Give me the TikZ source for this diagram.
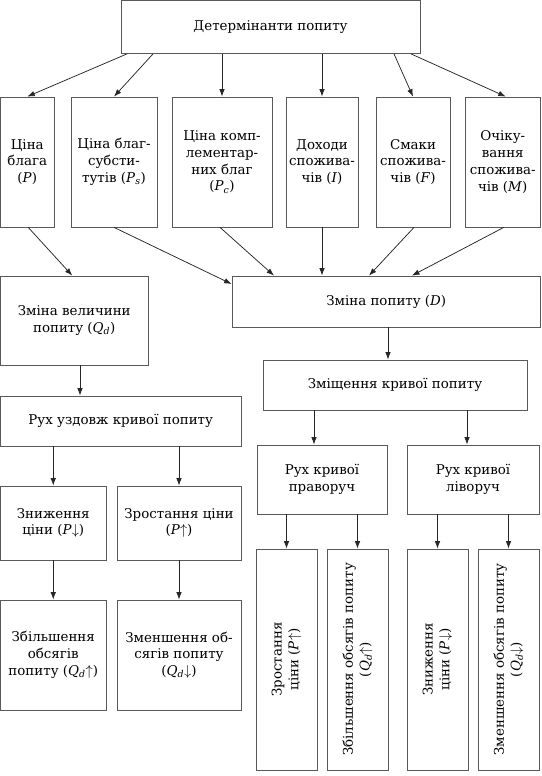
\documentclass[tikz,border=0pt]{standalone}
\usepackage{fontspec}
\setmainfont{DejaVu Serif}
\usetikzlibrary{arrows.meta,calc}
\newcommand\Pit{\textit{P}}
\newcommand\Qd{\textit{Q}\textsubscript{\textit{d}}}
\begin{document}
\begin{tikzpicture}[x=1pt,y=-1pt,
  box/.style={draw=black!65, line width=0.8pt, align=center, inner sep=0pt,
    font=\fontsize{13.4}{16.8}\selectfont},
  arr/.style={-{Latex[length=7.5pt,width=5.5pt]}, draw=black!85, line width=0.75pt}]
\useasboundingbox (0,0) rectangle (541,776);
% top
\node[box, minimum width=299pt, minimum height=53pt] (top) at (270.5,27) {Детермінанти попиту};
% six determinants
\node[box, minimum width=53.5pt, minimum height=130pt] (b1) at (27.25,162) {Ціна\\блага\\(\Pit)};
\node[box, minimum width=86pt, minimum height=130pt] (b2) at (114,162) {Ціна благ-\\субсти-\\тутів (\Pit\textsubscript{\textit{s}})};
\node[box, minimum width=100pt, minimum height=130pt] (b3) at (222,162) {Ціна комп-\\лементар-\\них благ\\(\Pit\textsubscript{\textit{c}})};
\node[box, minimum width=72pt, minimum height=130pt] (b4) at (322,162) {Доходи\\спожива-\\чів (\textit{I})};
\node[box, minimum width=74pt, minimum height=130pt] (b5) at (413,162) {Смаки\\спожива-\\чів (\textit{F})};
\node[box, minimum width=75.5pt, minimum height=130pt] (b6) at (502.75,162) {Очіку-\\вання\\спожива-\\чів (\textit{M})};
% second row
\node[box, minimum width=147.5pt, minimum height=89pt] (zv) at (74.25,320.5) {Зміна величини\\попиту (\Qd)};
\node[box, minimum width=308.5pt, minimum height=51pt] (zd) at (386.25,301.5) {Зміна попиту (\textit{D})};
\node[box, minimum width=264pt, minimum height=50pt] (zz) at (395,385) {Зміщення кривої попиту};
\node[box, minimum width=240.5pt, minimum height=50pt] (ru) at (120.75,421) {Рух уздовж кривої попиту};
% left lower
\node[box, minimum width=105.5pt, minimum height=74pt] (la) at (53.25,523) {Зниження\\ціни (\Pit$\downarrow$)};
\node[box, minimum width=124pt, minimum height=74pt] (lb) at (179,523) {Зростання ціни\\(\Pit$\uparrow$)};
\node[box, minimum width=105.5pt, minimum height=110pt] (lc) at (53.25,655) {Збільшення\\обсягів\\попиту (\Qd$\uparrow$)};
\node[box, minimum width=124pt, minimum height=110pt] (ld) at (179,655) {Зменшення об-\\сягів попиту\\(\Qd$\downarrow$)};
% right lower
\node[box, minimum width=130pt, minimum height=69pt] (rp) at (322,479.5) {Рух кривої\\праворуч};
\node[box, minimum width=132pt, minimum height=69pt] (rl) at (473,479.5) {Рух кривої\\ліворуч};
\node[box, rotate=90, minimum width=221pt, minimum height=61pt] (r1) at (286.5,659.5) {Зростання\\ціни (\Pit$\uparrow$)};
\node[box, rotate=90, minimum width=221pt, minimum height=61pt] (r2) at (357.5,659.5) {Збільшення обсягів попиту\\(\Qd$\uparrow$)};
\node[box, rotate=90, minimum width=221pt, minimum height=61pt] (r3) at (437.5,659.5) {Зниження\\ціни (\Pit$\downarrow$)};
\node[box, rotate=90, minimum width=221pt, minimum height=61pt] (r4) at (508.5,659.5) {Зменшення обсягів попиту\\(\Qd$\downarrow$)};
% arrows from top
\draw[arr] ($(top.south)+(-143.5,0)$) -- (b1.north);
\draw[arr] ($(top.south)+(-117.5,0)$) -- (b2.north);
\draw[arr] (top.south -| b3.north) -- (b3.north);
\draw[arr] (top.south -| b4.north) -- (b4.north);
\draw[arr] ($(top.south)+(123.5,0)$) -- (b5.north);
\draw[arr] ($(top.south)+(140.5,0)$) -- ($(b6.north)+(3,0)$);
% arrows to second row
\draw[arr] ($(b1.south)+(1,0)$) -- ($(zv.north)+(-2,0)$);
\draw[arr] (b2.south) -- ($(zd.west)+(0,-17.5)$);
\draw[arr] ($(b3.south)+(-2,0)$) -- ($(zd.north)+(-112.25,0)$);
\draw[arr] (b4.south) -- (b4.south |- zd.north);
\draw[arr] ($(b5.south)+(1,0)$) -- ($(zd.north)+(-17.25,0)$);
\draw[arr] ($(b6.south)+(1,0)$) -- ($(zd.north)+(25.75,0)$);
% left chain
\draw[arr] ($(zv.south)+(5.75,0)$) -- ($(ru.north)+(-40.75,0)$);
\draw[arr] (la.north |- ru.south) -- (la.north);
\draw[arr] (lb.north |- ru.south) -- (lb.north);
\draw[arr] (la.south) -- (lc.north);
\draw[arr] (lb.south) -- (ld.north);
% right chain
\draw[arr] ($(zd.south)+(1.75,0)$) -- ($(zz.north)+(-7,0)$);
\draw[arr] ($(zz.south)+(-81,0)$) -- ($(rp.north)+(-8,0)$);
\draw[arr] ($(zz.south)+(72,0)$) -- ($(rl.north)+(-6,0)$);
\draw[arr] (r1.east |- rp.south) -- (r1.east);
\draw[arr] (r2.east |- rp.south) -- (r2.east);
\draw[arr] (r3.east |- rl.south) -- (r3.east);
\draw[arr] (r4.east |- rl.south) -- (r4.east);
\end{tikzpicture}
\end{document}
